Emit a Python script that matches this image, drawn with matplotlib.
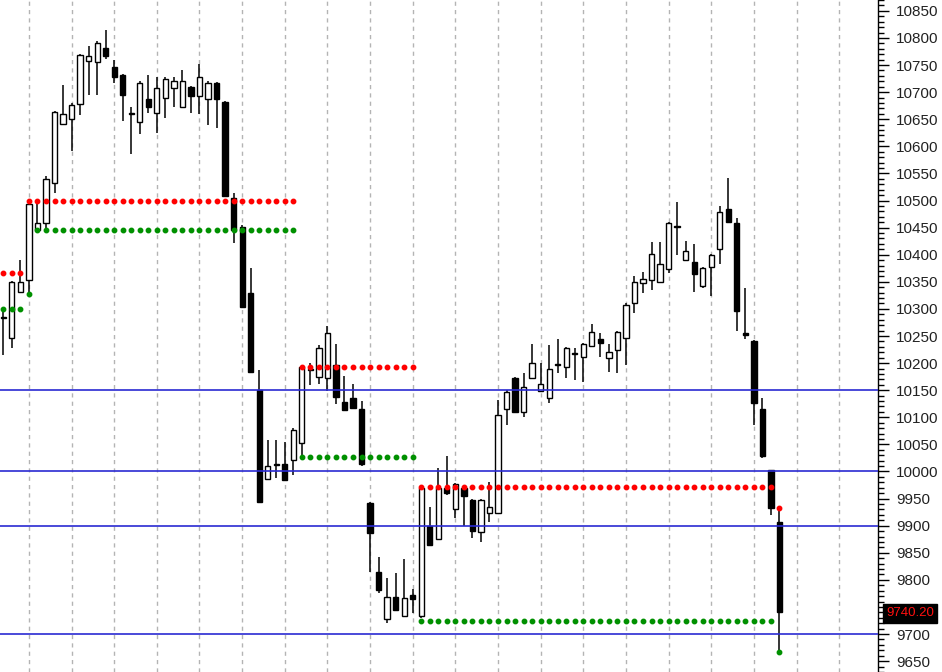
import numpy as np
import matplotlib
matplotlib.use("Agg")
import matplotlib.pyplot as plt
from matplotlib.ticker import MultipleLocator, FixedFormatter
import matplotlib.transforms as mtransforms

plt.rcParams['font.family'] = ['Liberation Sans', 'DejaVu Sans']

# ---- data ----
opens = [10285, 10247, 10332, 10354, 10445, 10459, 10533, 10642, 10651, 10679,
         10758, 10756, 10782, 10747, 10731, 10661, 10644, 10688, 10661, 10690,
         10707, 10672, 10709, 10692, 10687, 10716, 10681, 10504, 10452, 10330,
         10151, 9987, 10014, 10013, 10022, 10052, 10190, 10175, 10172, 10197,
         10129, 10135, 10116, 9941, 9814, 9727, 9768, 9734, 9773, 9734,
         9899, 9876, 9969, 9930, 9969, 9948, 9889, 9924, 9924, 10116,
         10173, 10109, 10173, 10148, 10135, 10198, 10192, 10218, 10212, 10232,
         10245, 10210, 10225, 10247, 10310, 10347, 10354, 10350, 10373, 10453,
         10391, 10386, 10343, 10378, 10411, 10485, 10458, 10255, 10240, 10116,
         10002, 9906]
highs = [10300, 10352, 10391, 10500, 10494, 10545, 10666, 10714, 10680, 10770,
         10785, 10795, 10815, 10760, 10733, 10672, 10721, 10731, 10728, 10727,
         10728, 10741, 10712, 10751, 10720, 10718, 10683, 10513, 10455, 10376,
         10188, 10059, 10059, 10054, 10080, 10195, 10200, 10233, 10269, 10236,
         10177, 10162, 10130, 9943, 9843, 9803, 9812, 9838, 9784, 9972,
         9935, 10007, 10028, 9978, 9972, 9950, 9950, 9980, 10131, 10150,
         10175, 10181, 10236, 10201, 10234, 10245, 10229, 10227, 10238, 10273,
         10256, 10236, 10260, 10310, 10360, 10369, 10423, 10424, 10460, 10498,
         10426, 10419, 10378, 10402, 10490, 10541, 10467, 10339, 10242, 10135,
         10003, 9932]
lows = [10215, 10227, 10330, 10330, 10443, 10445, 10513, 10640, 10592, 10657,
        10694, 10695, 10762, 10716, 10646, 10585, 10622, 10661, 10624, 10653,
        10672, 10670, 10661, 10659, 10640, 10633, 10506, 10421, 10302, 10181,
        9941, 9985, 9988, 9984, 9994, 10030, 10159, 10162, 10149, 10125,
        10112, 10116, 10011, 9815, 9775, 9721, 9743, 9732, 9738, 9729,
        9862, 9874, 9956, 9915, 9899, 9878, 9869, 9906, 9922, 10085,
        10107, 10101, 10170, 10146, 10127, 10181, 10173, 10168, 10166, 10230,
        10212, 10183, 10181, 10197, 10293, 10330, 10335, 10349, 10367, 10399,
        10389, 10332, 10339, 10323, 10383, 10459, 10260, 10245, 10086, 10025,
        9920, 9665]
closes = [10283, 10350, 10350, 10494, 10459, 10540, 10664, 10659, 10677, 10768,
          10766, 10791, 10766, 10727, 10694, 10659, 10716, 10672, 10707, 10725,
          10720, 10720, 10692, 10727, 10716, 10687, 10508, 10445, 10304, 10183,
          9943, 10011, 10012, 9985, 10077, 10192, 10187, 10227, 10256, 10137,
          10114, 10118, 10013, 9886, 9782, 9768, 9745, 9766, 9764, 9970,
          9864, 9970, 9960, 9976, 9954, 9891, 9948, 9934, 10105, 10146,
          10109, 10155, 10201, 10162, 10190, 10196, 10227, 10216, 10236, 10258,
          10238, 10221, 10258, 10308, 10349, 10356, 10402, 10382, 10458, 10451,
          10406, 10364, 10376, 10400, 10478, 10461, 10296, 10252, 10126, 10029,
          9932, 9740.2]

# level segments: (first bar, last bar, price)
red_levels = [(0, 2, 10367), (3, 34, 10500), (35, 48, 10192), (49, 90, 9972), (91, 91, 9932)]
green_levels = [(0, 2, 10299), (3, 3, 10328), (4, 34, 10445), (35, 48, 10026),
                (49, 90, 9725), (91, 91, 9667)]
blue_levels = [10150, 10000, 9900, 9700]
y_ticks = list(range(9650, 10851, 50))
last_price = 9740.20
last_label = "9740.20"

# ---- figure ----
W, H = 942, 672
fig = plt.figure(figsize=(W / 100, H / 100), dpi=100)
ax = fig.add_axes([0, 0, 878 / W, 1])

n = len(opens)
x = np.arange(n)
o = np.array(opens, float)
c = np.array(closes, float)
hi = np.array(highs, float)
lo = np.array(lows, float)

ax.set_xlim(-0.39, 102.55)
ax.set_ylim(9630, 10870)

# vertical dashed grid every 5 bars
for gx in range(3, 103, 5):
    ax.axvline(gx, color='#b4b4b4', lw=1.0, ls=(0, (3, 3)), zorder=0)

# wicks
ax.vlines(x, lo, hi, color='black', lw=1.1, zorder=2)
# bodies
up = c >= o
bottom = np.minimum(o, c)
height = np.maximum(np.abs(c - o), 1.5)
ax.bar(x[up], height[up], bottom=bottom[up], width=0.62, color='white',
       edgecolor='black', linewidth=1.0, zorder=3)
ax.bar(x[~up], height[~up], bottom=bottom[~up], width=0.62, color='black',
       edgecolor='black', linewidth=1.0, zorder=3)

# blue horizontal levels
for lv in blue_levels:
    ax.axhline(lv, color='#2a2ad2', lw=1.2, zorder=4)

# dotted levels
for (s, e, v) in red_levels:
    xs = np.arange(s, e + 1)
    ax.plot(xs, np.full(len(xs), v), ls='none', marker='o', ms=3.2,
            color='#ff0000', mec='#ff0000', zorder=5)
for (s, e, v) in green_levels:
    xs = np.arange(s, e + 1)
    ax.plot(xs, np.full(len(xs), v), ls='none', marker='o', ms=3.2,
            color='#009000', mec='#009000', zorder=5)

# axis styling
for side in ['left', 'top', 'bottom']:
    ax.spines[side].set_visible(False)
ax.spines['right'].set_color('black')
ax.spines['right'].set_linewidth(1.0)
ax.yaxis.tick_right()
ax.set_xticks([])
ax.set_yticks(y_ticks)
# the label at the last-price position is covered by the price box
labels = ['' if abs(t - last_price) < 25 else str(t) for t in y_ticks]
ax.set_yticklabels(labels)
ax.yaxis.set_minor_locator(MultipleLocator(10))
ax.tick_params(axis='y', which='major', length=8, width=1, labelsize=11, pad=5,
               colors='black', labelcolor='#222222')
ax.tick_params(axis='y', which='minor', length=4, width=1)

# last price label
trans = mtransforms.blended_transform_factory(ax.transAxes, ax.transData)
ax.annotate(last_label, xy=(1.0, last_price), xycoords=trans,
            xytext=(8, -1), textcoords='offset pixels', va='center', ha='left',
            color='#ff1010', fontsize=9.5, annotation_clip=False, zorder=10,
            bbox=dict(boxstyle='square,pad=0.25', fc='black', ec='black'))

fig.savefig('out.png', dpi=100)
